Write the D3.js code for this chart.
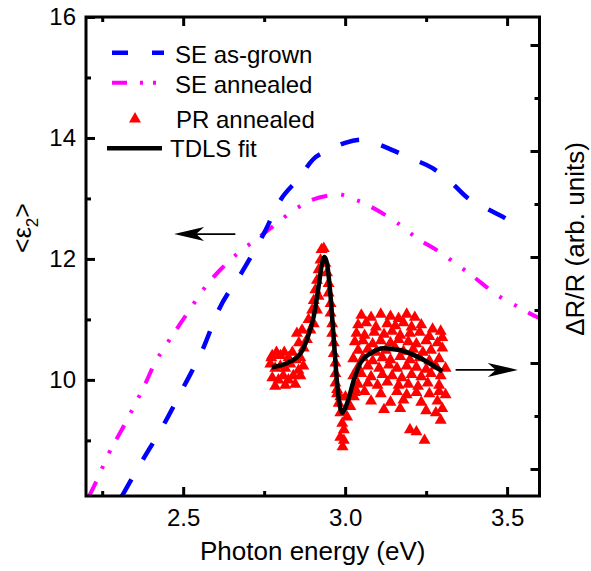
<!DOCTYPE html>
<html>
<head>
<meta charset="utf-8">
<script src="https://cdn.jsdelivr.net/npm/d3@7"></script>
<style>
  body { margin: 0; background: #fff; }
  svg text { font-family: "Liberation Sans", Arial, sans-serif; fill: #000; }
</style>
</head>
<body>
<svg id="chart" width="591" height="571"></svg>
<script>
// SE as-grown (left axis, <eps2>)
const energyAsGrown = [2.311, 2.37, 2.44, 2.50, 2.56, 2.61, 2.68, 2.75, 2.80, 2.86, 2.90, 2.95, 3.00, 3.05, 3.10, 3.15, 3.20, 3.27, 3.33, 3.38, 3.43, 3.485, 3.51, 3.527];
const epsAsGrown    = [8.08, 8.63, 9.26, 9.87, 10.5, 11.16, 11.77, 12.43, 12.97, 13.35, 13.64, 13.8, 13.92, 13.97, 13.9, 13.79, 13.67, 13.5, 13.25, 13.0, 12.85, 12.7, 12.63, 12.62];

// SE annealed
const energyAnnealed = [2.21, 2.23, 2.27, 2.315, 2.35, 2.38, 2.41, 2.45, 2.49, 2.53, 2.57, 2.62, 2.67, 2.72, 2.78, 2.84, 2.90, 2.95, 2.98, 3.02, 3.05, 3.11, 3.16, 3.22, 3.29, 3.34, 3.40, 3.47, 3.53, 3.58, 3.60];
const epsAnnealed    = [8.08, 8.3, 8.78, 9.22, 9.58, 9.9, 10.25, 10.6, 10.92, 11.24, 11.55, 11.85, 12.1, 12.3, 12.55, 12.8, 12.98, 13.05, 13.07, 13.0, 12.94, 12.77, 12.6, 12.35, 12.12, 11.93, 11.69, 11.4, 11.22, 11.07, 11.02];

// PR annealed (right axis, dR/R arb. units)
const prEnergy = [
  2.772, 2.775, 2.788, 2.800, 2.812, 2.825, 2.769, 2.784, 2.800, 2.815, 2.831, 2.775, 2.794, 2.809, 2.825, 2.840,
  2.784, 2.815, 2.846, 2.856, 2.849, 2.837, 2.862, 2.871, 2.862,
  2.882, 2.893, 2.887, 2.898, 2.903, 2.908, 2.913, 2.918, 2.924, 2.927, 2.934, 2.851, 2.867, 2.857, 2.872, 2.903, 2.913, 2.918,
  2.939, 2.944, 2.949, 2.949, 2.955, 2.955, 2.960, 2.960, 2.965, 2.965, 2.970, 2.970, 2.970, 2.975, 2.980, 2.985, 2.991, 2.996,
  2.996, 2.985, 3.006, 3.016, 3.027, 3.032, 2.975, 3.001, 2.985, 2.992,
  3.05, 3.08, 3.11, 3.14, 3.165, 3.19, 3.215,
  3.04, 3.065, 3.095, 3.13, 3.155, 3.18, 3.205, 3.235, 3.27, 3.295,
  3.035, 3.06, 3.09, 3.12, 3.145, 3.17, 3.2, 3.23, 3.26, 3.30,
  3.03, 3.055, 3.085, 3.11, 3.14, 3.165, 3.195, 3.22, 3.25, 3.285,
  3.04, 3.07, 3.095, 3.125, 3.155, 3.18, 3.21, 3.24, 3.265, 3.30,
  3.025, 3.055, 3.085, 3.115, 3.14, 3.17, 3.20, 3.23, 3.26, 3.29,
  3.04, 3.07, 3.105, 3.135, 3.16, 3.19, 3.22, 3.25, 3.28, 3.31,
  3.025, 3.05, 3.08, 3.115, 3.145, 3.175, 3.205, 3.235, 3.265, 3.295,
  3.04, 3.07, 3.10, 3.13, 3.165, 3.195, 3.225, 3.255, 3.29,
  3.03, 3.06, 3.11, 3.16, 3.19, 3.22, 3.26, 3.29, 3.31,
  3.08, 3.14, 3.18, 3.235, 3.285,
  3.12, 3.17, 3.25, 3.30,
  3.20, 3.22, 3.245, 3.295, 3.28
];
const prSignal = [
  0.05, 0.07, 0.10, 0.07, 0.10, 0.05, -0.01, -0.05, -0.03, -0.05, -0.01, -0.14, -0.16, -0.12, -0.16, -0.12,
  -0.22, -0.21, -0.20, -0.07, 0.03, 0.10, -0.12, -0.03, 0.05,
  0.22, 0.31, 0.41, 0.50, 0.59, 0.69, 0.78, 0.88, 0.97, 1.07, 1.08, 0.28, 0.31, 0.19, 0.14, 0.37, 0.50, 0.63,
  0.94, 0.85, 0.75, 0.66, 0.56, 0.47, 0.37, 0.28, 0.19, 0.09, 0.00, -0.10, -0.19, -0.29, -0.38, -0.47, -0.57, -0.63,
  -0.73, -0.70, -0.51, -0.41, -0.32, -0.25, -0.25, -0.32, -0.32, -0.79,
  0.45, 0.43, 0.46, 0.44, 0.42, 0.46, 0.43,
  0.36, 0.38, 0.34, 0.37, 0.35, 0.38, 0.34, 0.36, 0.32, 0.30,
  0.28, 0.26, 0.29, 0.27, 0.30, 0.26, 0.28, 0.29, 0.25, 0.24,
  0.20, 0.21, 0.18, 0.21, 0.19, 0.22, 0.20, 0.18, 0.21, 0.19,
  0.12, 0.13, 0.10, 0.12, 0.14, 0.11, 0.13, 0.10, 0.12, 0.14,
  0.04, 0.05, 0.02, 0.05, 0.03, 0.06, 0.03, 0.05, 0.02, 0.04,
  -0.04, -0.03, -0.05, -0.02, -0.05, -0.03, -0.04, -0.06, -0.03, -0.05,
  -0.12, -0.10, -0.13, -0.11, -0.12, -0.14, -0.11, -0.13, -0.10, -0.12,
  -0.20, -0.19, -0.21, -0.18, -0.21, -0.20, -0.22, -0.19, -0.21,
  -0.28, -0.27, -0.29, -0.27, -0.30, -0.28, -0.29, -0.27, -0.30,
  -0.36, -0.37, -0.35, -0.37, -0.36,
  -0.44, -0.43, -0.45, -0.43,
  -0.63, -0.65, -0.73, -0.54, -0.47
];

// TDLS fit
const fitEnergy = [2.774, 2.821, 2.862, 2.882, 2.903, 2.918, 2.929, 2.936, 2.944, 2.955, 2.965, 2.977, 2.991, 3.006, 3.027, 3.047, 3.078, 3.119, 3.171, 3.223, 3.30];
const fitSignal = [-0.04, 0.00, 0.09, 0.22, 0.44, 0.72, 0.94, 1.00, 0.94, 0.63, 0.22, -0.25, -0.47, -0.38, -0.16, 0.00, 0.09, 0.14, 0.12, 0.06, -0.08];

const xMajor = [2.5, 3.0, 3.5];
const xMinor = [2.25, 2.75, 3.25];
const yMajor = [10, 12, 14, 16];
const yMinor = [9, 11, 13, 15];
const yRightMajor = [-1, 0, 1, 2, 3];
const yRightMinor = [-0.5, 0.5, 1.5, 2.5];

const svg = d3.select("#chart");
const plotLeft = 86, plotRight = 539.5, plotTop = 17, plotBottom = 496;

const x = d3.scaleLinear().domain([2.2, 3.6]).range([plotLeft, plotRight]);
const y = d3.scaleLinear().domain([8.08, 16]).range([plotBottom, plotTop]);
const yR = d3.scaleLinear().domain([-1.255, 3.264]).range([plotBottom, plotTop]);

svg.append("defs").append("clipPath").attr("id", "plot-clip")
  .append("rect").attr("x", plotLeft).attr("y", plotTop)
  .attr("width", plotRight - plotLeft).attr("height", plotBottom - plotTop);

const plot = svg.append("g").attr("clip-path", "url(#plot-clip)");

// SE curves
const seLine = d3.line().x(d => x(d[0])).y(d => y(d[1])).curve(d3.curveMonotoneX);

plot.append("path")
  .datum(d3.zip(energyAnnealed, epsAnnealed))
  .attr("d", seLine)
  .attr("fill", "none")
  .attr("stroke", "#ff00ff")
  .attr("stroke-width", 4)
  .attr("stroke-dasharray", "16,14,3,14,3,13");

plot.append("path")
  .datum(d3.zip(energyAsGrown, epsAsGrown))
  .attr("d", seLine)
  .attr("fill", "none")
  .attr("stroke", "#0000ff")
  .attr("stroke-width", 4.5)
  .attr("stroke-dasharray", "19,23");

// PR triangles
const tri = d3.symbol().type(d3.symbolTriangle).size(62);
plot.selectAll(".pr")
  .data(d3.zip(prEnergy, prSignal))
  .enter().append("path")
  .attr("class", "pr")
  .attr("d", tri)
  .attr("transform", d => `translate(${x(d[0])},${yR(d[1])})`)
  .attr("fill", "#ff0000");

// TDLS fit
plot.append("path")
  .datum(d3.zip(fitEnergy, fitSignal))
  .attr("d", d3.line().x(d => x(d[0])).y(d => yR(d[1])).curve(d3.curveMonotoneX))
  .attr("fill", "none")
  .attr("stroke", "#000")
  .attr("stroke-width", 4.5);

// arrows pointing at the axis each curve belongs to
function arrow(x0, x1, yv) {
  const dir = Math.sign(x1 - x0);
  const tip = x(x1), py = y(yv);
  svg.append("line")
    .attr("x1", x(x0)).attr("x2", tip - dir * 20)
    .attr("y1", py).attr("y2", py)
    .attr("stroke", "#000").attr("stroke-width", 1.6);
  svg.append("path")
    .attr("d", `M${tip},${py} L${tip - dir * 30},${py - 7} L${tip - dir * 22},${py} L${tip - dir * 30},${py + 7} Z`)
    .attr("fill", "#000");
}
arrow(2.661, 2.472, 12.41);
arrow(3.341, 3.533, 10.165);

// axes
function styleAxis(g) {
  g.select(".domain").remove();
  g.selectAll(".tick line").attr("stroke", "#000").attr("stroke-width", 3);
  g.selectAll("text").attr("font-size", 24).attr("font-family", "Liberation Sans, Arial, sans-serif");
}

svg.append("g").attr("transform", `translate(0,${plotBottom})`)
  .call(d3.axisBottom(x).tickValues(xMajor).tickSize(-9).tickPadding(13).tickFormat(d3.format(".1f")))
  .call(styleAxis);
svg.append("g").attr("transform", `translate(0,${plotBottom})`)
  .call(d3.axisBottom(x).tickValues(xMinor).tickSize(-5).tickFormat(""))
  .call(styleAxis);
svg.append("g").attr("transform", `translate(0,${plotTop})`)
  .call(d3.axisTop(x).tickValues(xMajor).tickSize(-9).tickFormat(""))
  .call(styleAxis);
svg.append("g").attr("transform", `translate(0,${plotTop})`)
  .call(d3.axisTop(x).tickValues(xMinor).tickSize(-5).tickFormat(""))
  .call(styleAxis);

svg.append("g").attr("transform", `translate(${plotLeft},0)`)
  .call(d3.axisLeft(y).tickValues(yMajor).tickSize(-9).tickPadding(10).tickFormat(d3.format("d")))
  .call(styleAxis);
svg.append("g").attr("transform", `translate(${plotLeft},0)`)
  .call(d3.axisLeft(y).tickValues(yMinor).tickSize(-5).tickFormat(""))
  .call(styleAxis);

svg.append("g").attr("transform", `translate(${plotRight},0)`)
  .call(d3.axisRight(yR).tickValues(yRightMajor).tickSize(-9).tickFormat(""))
  .call(styleAxis);
svg.append("g").attr("transform", `translate(${plotRight},0)`)
  .call(d3.axisRight(yR).tickValues(yRightMinor).tickSize(-5).tickFormat(""))
  .call(styleAxis);

svg.append("rect")
  .attr("x", plotLeft).attr("y", plotTop)
  .attr("width", plotRight - plotLeft).attr("height", plotBottom - plotTop)
  .attr("fill", "none").attr("stroke", "#000").attr("stroke-width", 3);

// axis titles
svg.append("text")
  .attr("x", (plotLeft + plotRight) / 2).attr("y", 560)
  .attr("text-anchor", "middle").attr("font-size", 26)
  .text("Photon energy (eV)");

const yTitle = svg.append("text")
  .attr("transform", "translate(31,228) rotate(-90)")
  .attr("text-anchor", "middle").attr("font-size", 25);
yTitle.append("tspan").text("<ε");
yTitle.append("tspan").attr("font-size", 17).attr("dy", 7).text("2");
yTitle.append("tspan").attr("dy", -7).text(">");

svg.append("text")
  .attr("transform", "translate(584,239) rotate(-90)")
  .attr("text-anchor", "middle").attr("font-size", 26)
  .text("ΔR/R (arb. units)");

// legend
const legend = svg.append("g");
legend.append("line").attr("x1", 112).attr("x2", 164).attr("y1", 52.7).attr("y2", 52.7)
  .attr("stroke", "#0000ff").attr("stroke-width", 4.5).attr("stroke-dasharray", "16,24");
legend.append("text").attr("x", 175).attr("y", 63).attr("font-size", 24).text("SE as-grown");

legend.append("line").attr("x1", 112).attr("x2", 158).attr("y1", 82.7).attr("y2", 82.7)
  .attr("stroke", "#ff00ff").attr("stroke-width", 4).attr("stroke-dasharray", "15,13,3,10,3,20");
legend.append("text").attr("x", 175).attr("y", 92.7).attr("font-size", 24).text("SE annealed");

legend.append("path").attr("d", tri).attr("transform", "translate(135,119)").attr("fill", "#ff0000");
legend.append("text").attr("x", 176).attr("y", 128).attr("font-size", 24).text("PR annealed");

legend.append("line").attr("x1", 107).attr("x2", 162).attr("y1", 148.3).attr("y2", 148.3)
  .attr("stroke", "#000").attr("stroke-width", 4.5);
legend.append("text").attr("x", 170).attr("y", 156.7).attr("font-size", 24).text("TDLS fit");
</script>
</body>
</html>
